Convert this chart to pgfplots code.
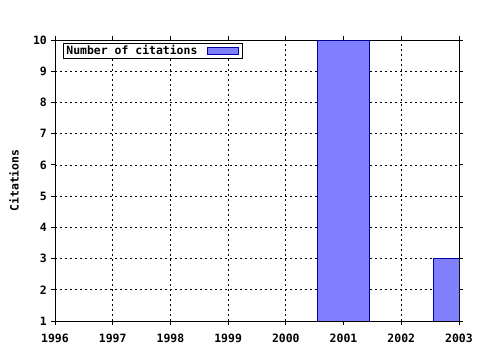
\documentclass[border=0pt]{standalone}
\usepackage{fontspec}
\setmonofont{DejaVu Sans Mono}
\usepackage{pgfplots}
\pgfplotsset{compat=1.18}
\definecolor{barfill}{HTML}{8080FF}
\definecolor{barline}{HTML}{0000A0}
\newcommand{\gfont}{\ttfamily\bfseries\fontsize{11.5}{12}\selectfont}
\begin{document}
\begin{tikzpicture}
\useasboundingbox[fill=white] (-55bp,-29bp) rectangle (425bp,321bp);
\begin{axis}[
  at={(0,0)}, anchor=south west,
  scale only axis, width=404bp, height=281bp,
  xmin=1996, xmax=2003, ymin=1, ymax=10,
  xtick={1996,...,2003}, ytick={1,...,10},
  minor x tick num=3,
  xticklabel style={/pgf/number format/1000 sep={}},
  /pgf/number format/assume math mode=true,
  tick label style={font=\gfont, inner sep=0pt},
  xticklabel style={yshift=-9bp},
  yticklabel style={xshift=-4bp},
  tick align=outside,
  major tick length=4bp, minor tick length=3bp,
  tick style={black, line width=0.8bp},
  axis line style={black, line width=0.8bp},
  grid=major,
  major grid style={black, line width=0.7bp, dash pattern=on 2bp off 3bp},
  ylabel={Citations},
  ylabel style={font=\gfont, at={(axis description cs:0,0.5)}, anchor=center, yshift=41bp},
  legend plot pos=right,
  legend image code/.code={\path[draw=none,fill=none] (0bp,0bp) -- (42bp,0bp);\draw[#1] (8bp,-3.5bp) rectangle (39bp,3.5bp);},
  legend style={font=\gfont, at={(0,1)}, anchor=north west, xshift=8bp, yshift=-3bp,
    draw=black, line width=0.8bp, inner xsep=1bp, inner ysep=0bp},
]
\addplot[ybar, bar width=0.9, fill=barfill, draw=barline, line width=0.8bp]
  coordinates {(2001,10) (2003,3)};
\addlegendentry{Number of citations}
\end{axis}
\end{tikzpicture}
\end{document}
